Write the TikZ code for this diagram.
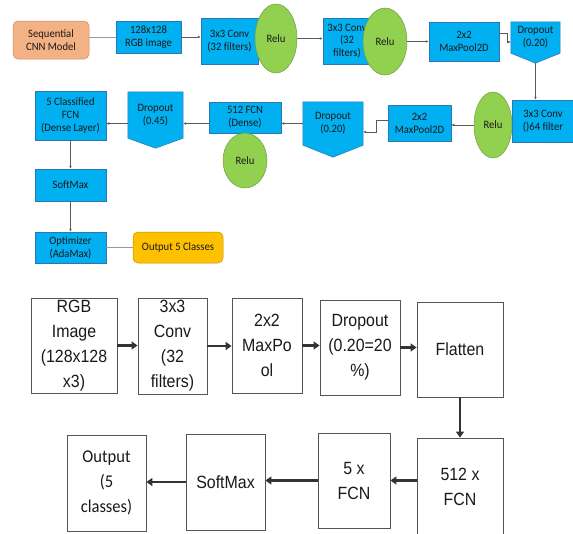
\documentclass[tikz,border=0pt]{standalone}
\usepackage{fontspec}
\setmainfont{Carlito}
\newfontfamily\topfont[FakeStretch=0.94]{Carlito}
\newfontfamily\arialfont[FakeStretch=0.9]{Liberation Sans}
\newfontfamily\outfont[FakeStretch=0.92]{Carlito}
\usepackage{xcolor}
\usetikzlibrary{arrows.meta, shapes.geometric, backgrounds}
\definecolor{cnnblue}{HTML}{00B0F0}
\definecolor{cnnedge}{HTML}{2E75B6}
\definecolor{relugreen}{HTML}{92D050}
\definecolor{reluedge}{HTML}{6F9E3F}
\definecolor{seqfill}{HTML}{F4B183}
\definecolor{seqedge}{HTML}{C98B63}
\definecolor{outfill}{HTML}{FFC000}
\definecolor{outedge}{HTML}{C29200}
\definecolor{linkgray}{HTML}{9A9A9A}
\definecolor{flowgray}{HTML}{5A5A5A}
\definecolor{stagegray}{HTML}{555555}
\definecolor{passdark}{HTML}{333333}

\newcommand{\toptext}{\topfont\fontsize{11.3}{12.8}\selectfont}
\newcommand{\stagetext}{\arialfont\fontsize{17.7}{25}\selectfont}

\tikzset{
  blk/.style={rectangle, draw=cnnedge, fill=cnnblue, line width=0.5pt, align=center,
    font=\toptext, text=black!90, inner sep=1pt},
  dropbox/.style={rectangle, align=center, font=\toptext, text=black!90, inner sep=1pt},
  dropshape/.style={draw=cnnedge, fill=cnnblue, line width=0.5pt},
  relu/.style={ellipse, draw=reluedge, fill=relugreen, line width=0.5pt,
    font=\toptext, text=black!90, inner sep=0pt},
  link/.style={draw=linkgray, line width=0.6pt},
  flow/.style={draw=flowgray, line width=0.5pt, -{Latex[length=3pt,width=2.6pt]}},
  stage/.style={rectangle, draw=stagegray, line width=0.8pt, align=center,
    font=\stagetext, text=black!90, inner sep=0pt},
  pass/.style={draw=passdark, line width=2.2pt, -{Triangle[length=6pt,width=8pt]}},
}

\begin{document}
\begin{tikzpicture}[x=1pt, y=-1pt]
  \useasboundingbox (0,0) rectangle (573,533);

  % Upper diagram: first row
  \node[blk, rounded corners=5pt, fill=seqfill, draw=seqedge, minimum width=76pt, minimum height=38pt]
    (seq) at (51,40) {Sequential\\CNN Model};
  \node[blk, minimum width=65pt, minimum height=32pt] (rgb) at (148.5,37) {128x128\\RGB image};
  \node[blk, minimum width=57pt, minimum height=46pt] (conv1) at (229.5,41) {3x3 Conv\\(32 filters)};
  \node[relu, minimum width=42pt, minimum height=69pt] (relu1) at (276,38.5) {Relu};
  \node[blk, minimum width=48pt, minimum height=46pt] (conv2) at (347,41) {3x3 Conv\\(32\\filters)};
  \node[relu, minimum width=44pt, minimum height=67pt] (relu2) at (385,41.5) {Relu};
  \node[blk, minimum width=70pt, minimum height=39pt] (pool1) at (464,41.5) {2x2\\MaxPool2D};
  \node[dropbox, minimum width=49pt, minimum height=31pt] (drop1) at (535.5,37.5) {Dropout\\(0.20)};

  % Upper diagram: second row
  \node[blk, minimum width=62pt, minimum height=42pt] (conv3) at (543,121) {3x3 Conv\\()64 filter};
  \node[relu, minimum width=38pt, minimum height=66pt] (relu3) at (493,125) {Relu};
  \node[blk, minimum width=63pt, minimum height=36pt] (pool2) at (419.5,123) {2x2\\MaxPool2D};
  \node[dropbox, minimum width=60pt, minimum height=43pt] (drop2) at (333,123.5) {Dropout\\(0.20)};
  \node[blk, minimum width=72pt, minimum height=31pt] (fcn512) at (245,117.5) {512 FCN\\(Dense)};
  \node[relu, minimum width=44pt, minimum height=55pt] (relu4) at (245,160.5) {Relu};
  \node[dropbox, minimum width=55pt, minimum height=46pt] (drop3) at (155.5,115) {Dropout\\(0.45)};
  \node[blk, minimum width=71pt, minimum height=49pt] (fcn5) at (70.5,115.5) {5 Classified\\FCN\\(Dense Layer)};

  % Upper diagram: left column
  \node[blk, minimum width=71pt, minimum height=32pt] (soft) at (70.5,185) {SoftMax};
  \node[blk, minimum width=71pt, minimum height=31pt] (optim) at (70.5,247.5) {Optimizer\\(AdaMax)};
  \node[blk, rounded corners=5pt, fill=outfill, draw=outedge, minimum width=90pt, minimum height=31pt]
    (out) at (178,247.5) {Output 5 Classes};

  % Dropout blocks
  \begin{scope}[on background layer]
    \foreach \d/\t in {drop1/10, drop2/12, drop3/10}
      \draw[dropshape] (\d.north west) -- (\d.north east) -- (\d.south east)
        -- ([yshift=-\t pt]\d.south) -- (\d.south west) -- cycle;
  \end{scope}
  \coordinate (drop1tip) at ([yshift=-10pt]drop1.south);

  % Upper connectors
  \draw[link] (seq.east |- rgb.west) -- (rgb.west);
  \draw[flow] (rgb.east) -- (rgb.east -| conv1.west);
  \draw[flow] (relu1.east) -- (relu1.east -| conv2.west);
  \draw[flow] (relu2.east) -- (relu2.east -| pool1.west);
  \draw[flow] ([yshift=8.5pt]pool1.east) -- ++(8,0) |- ([yshift=-4.5pt]drop1.west);
  \draw[flow] (drop1tip) -- (drop1tip |- conv3.north);
  \draw[flow] (relu3.west) -- (relu3.west -| pool2.east);
  \draw[flow] ([yshift=3pt]pool2.west) -- ++(-12,0) |- ([yshift=-8.5pt]drop2.east);
  \draw[flow] (drop2.west) -- (drop2.west -| fcn512.east);
  \draw[flow] (fcn512.west |- drop2.west) -- (drop3.east |- drop2.west);
  \draw[flow] (drop3.west |- drop2.west) -- (fcn5.east |- drop2.west);
  \draw[flow] (fcn5.south) -- (soft.north);
  \draw[flow] (soft.south) -- (optim.north);
  \draw[link] (optim.east) -- (out.west);

  % Lower diagram
  \node[stage, minimum width=86pt, minimum height=95pt] (b_rgb) at (74,345.5) {RGB\\Image\\(128x128\\x3)};
  \node[stage, minimum width=69pt, minimum height=96pt] (b_conv) at (172.5,346) {3x3\\Conv\\(32\\filters)};
  \node[stage, minimum width=70pt, minimum height=95pt] (b_pool) at (267,345.5) {2x2\\MaxPo\\ol};
  \node[stage, minimum width=80pt, minimum height=95pt] (b_drop) at (360,347.5) {Dropout\\(0.20=20\\\%)};
  \node[stage, minimum width=86pt, minimum height=95pt] (b_flat) at (460,349.5) {Flatten};
  \node[stage, minimum width=86pt, minimum height=98pt] (b_fc512) at (460,487) {512 x\\FCN};
  \node[stage, minimum width=72pt, minimum height=95pt] (b_fc5) at (354,480.5) {5 x\\FCN};
  \node[stage, minimum width=79pt, minimum height=96pt] (b_soft) at (225.5,482) {SoftMax};
  \node[stage, minimum width=79pt, minimum height=96pt, font=\outfont\fontsize{18}{25}\selectfont]
    (b_out) at (106.5,483) {Output\\(5\\classes)};

  % Lower connectors
  \draw[pass] (b_rgb.east) -- (b_rgb.east -| b_conv.west);
  \draw[pass] (b_conv.east) -- (b_conv.east -| b_pool.west);
  \draw[pass] (b_pool.east) -- (b_pool.east -| b_drop.west);
  \draw[pass] (b_drop.east) -- (b_drop.east -| b_flat.west);
  \draw[pass] (b_flat.south) -- (b_fc512.north);
  \draw[pass] (b_fc512.west |- b_fc5.east) -- (b_fc5.east);
  \draw[pass] (b_fc5.west) -- (b_fc5.west -| b_soft.east);
  \draw[pass] (b_soft.west) -- (b_soft.west -| b_out.east);
\end{tikzpicture}
\end{document}
